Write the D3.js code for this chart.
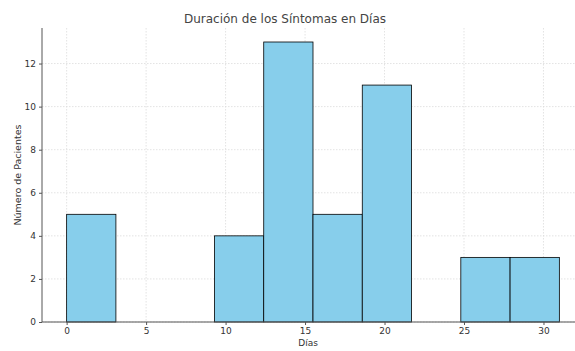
<!DOCTYPE html>
<html>
<head>
<meta charset="utf-8">
<script src="https://cdn.jsdelivr.net/npm/d3@7"></script>
<style>
  body { margin: 0; background: #fff; }
  text { font-family: "DejaVu Sans", sans-serif; }
</style>
</head>
<body>
<div id="chart"></div>
<script>
// histogram bins (days) and patient counts per bin
let binEdges = [0, 3.1, 6.2, 9.3, 12.4, 15.5, 18.6, 21.7, 24.8, 27.9, 31]
let counts = [5, 0, 0, 4, 13, 5, 11, 0, 3, 3]
let xTicks = [0, 5, 10, 15, 20, 25, 30]
let yTicks = [0, 2, 4, 6, 8, 10, 12]

let W = 575, H = 351
let margin = {top: 28, right: -9, bottom: 29, left: 42}
let width = W - margin.left - margin.right
let height = H - margin.top - margin.bottom

let bins = counts.map((c, i) => ({x0: binEdges[i], x1: binEdges[i + 1], n: c}))

let svg = d3.select("#chart").append("svg")
    .attr("width", W)
    .attr("height", H)

let g = svg.append("g")
    .attr("transform", `translate(${margin.left}, ${margin.top})`)

let x = d3.scaleLinear().domain([-1.55, 32.55]).range([0, width])
let y = d3.scaleLinear().domain([0, 13.65]).range([height, 0])

// grid
g.append("g").selectAll("line").data(xTicks).enter().append("line")
    .attr("x1", d => x(d)).attr("x2", d => x(d))
    .attr("y1", 0).attr("y2", height)
    .attr("stroke", "#dcdcdc").attr("stroke-width", 0.8).attr("stroke-dasharray", "1.5,1.5")
g.append("g").selectAll("line").data(yTicks).enter().append("line")
    .attr("x1", 0).attr("x2", width)
    .attr("y1", d => y(d)).attr("y2", d => y(d))
    .attr("stroke", "#dcdcdc").attr("stroke-width", 0.8).attr("stroke-dasharray", "1.5,1.5")

// bars
g.append("g").selectAll("rect").data(bins.filter(d => d.n > 0)).enter().append("rect")
    .attr("x", d => x(d.x0))
    .attr("width", d => x(d.x1) - x(d.x0))
    .attr("y", d => y(d.n))
    .attr("height", d => y(0) - y(d.n))
    .attr("fill", "#87ceeb")
    .attr("stroke", "#000")
    .attr("stroke-width", 0.8)

// axes
let xAxis = d3.axisBottom(x).tickValues(xTicks).tickSize(3).tickPadding(3)
let yAxis = d3.axisLeft(y).tickValues(yTicks).tickSize(3).tickPadding(3)

let gx = g.append("g").attr("transform", `translate(0, ${height})`).call(xAxis)
let gy = g.append("g").call(yAxis)

;[gx, gy].forEach(a => {
    a.select(".domain").attr("stroke", "#555").attr("stroke-width", 1)
    a.selectAll(".tick line").attr("stroke", "#555")
    a.selectAll(".tick text").attr("fill", "#333").style("font-size", "9px")
})
gy.select(".domain").attr("d", `M0,${height}V0`)
gx.select(".domain").attr("d", `M0,0H${width}`)

// labels
svg.append("text")
    .attr("x", 285).attr("y", 23)
    .attr("text-anchor", "middle")
    .style("font-size", "12px").attr("fill", "#444")
    .text("Duración de los Síntomas en Días")

svg.append("text")
    .attr("x", x(15) + margin.left + 3).attr("y", 346)
    .attr("text-anchor", "middle")
    .style("font-size", "9px").attr("fill", "#333")
    .text("Días")

svg.append("text")
    .attr("transform", `translate(21, 175) rotate(-90)`)
    .attr("text-anchor", "middle")
    .style("font-size", "9.5px").attr("fill", "#333")
    .text("Número de Pacientes")
</script>
</body>
</html>
